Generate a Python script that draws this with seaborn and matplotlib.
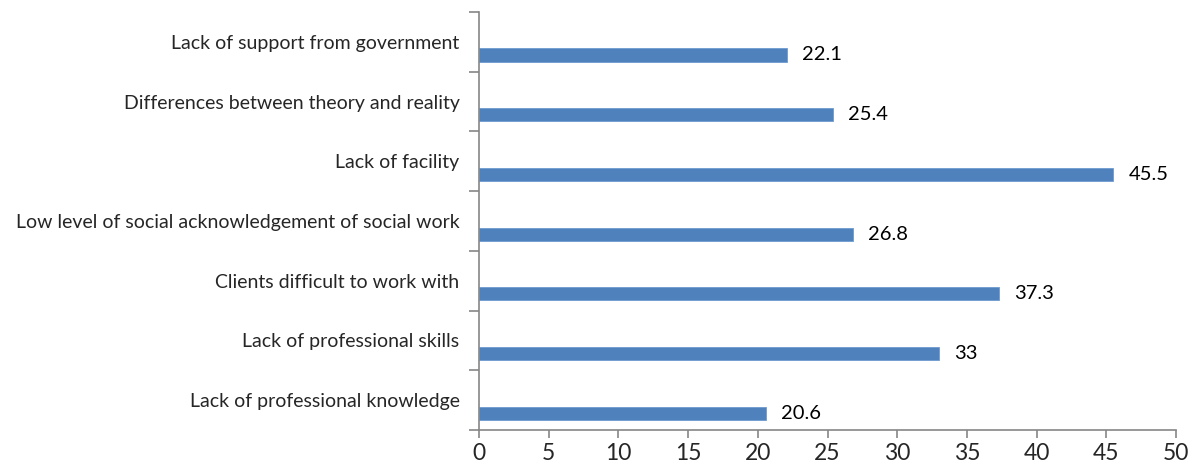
import numpy as np
import pandas as pd
import matplotlib
matplotlib.use("Agg")
import matplotlib.pyplot as plt
import seaborn as sns

# survey data: top to bottom as in the chart
problems = ['Lack of support from government',
            'Differences between theory and reality',
            'Lack of facility',
            'Low level of social acknowledgement of social work',
            'Clients difficult to work with',
            'Lack of professional skills',
            'Lack of professional knowledge']
percent = [22.1, 25.4, 45.5, 26.8, 37.3, 33, 20.6]
value_labels = ['22.1', '25.4', '45.5', '26.8', '37.3', '33', '20.6']
x_ticks = [0, 5, 10, 15, 20, 25, 30, 35, 40, 45, 50]

df = pd.DataFrame({'problem': problems, 'percent': percent})

sns.set_theme(style="white")
plt.rcParams['font.family'] = ['Lato', 'DejaVu Sans']

axis_grey = '#868686'
fig = plt.figure(figsize=(11.94, 4.72), dpi=100)
ax = fig.add_axes([479 / 1194, 1 - 430 / 472, 697 / 1194, 418 / 472])

sns.barplot(data=df, x='percent', y='problem', orient='h', color='#4F81BD',
            saturation=1, width=0.22, edgecolor='#6F9AD0', linewidth=0.6, ax=ax)

# Excel puts the bar in the lower part of each category band
for p in ax.patches:
    p.set_y(p.get_y() + 0.22)

ax.bar_label(ax.containers[0], labels=value_labels, padding=11, fontsize=14.5,
             color='black')

ax.set_xlim(0, 50)
ax.set_ylim(len(problems) - 0.5, -0.5)
ax.set_xticks(x_ticks)
ax.set_xticklabels([str(t) for t in x_ticks], fontsize=16.5)
ax.set_yticks(range(len(problems)))
ax.set_yticklabels(problems, fontsize=14)
ax.set_yticks(np.arange(-0.5, len(problems)), minor=True)
ax.tick_params(axis='y', which='major', length=0, pad=14)
ax.tick_params(axis='y', which='minor', length=7, width=1.2, color=axis_grey, left=True)
ax.tick_params(axis='x', which='major', length=6, width=1.2, color=axis_grey, bottom=True, pad=3)
ax.set_xlabel('')
ax.set_ylabel('')

for side in ['top', 'right']:
    ax.spines[side].set_visible(False)
for side in ['left', 'bottom']:
    ax.spines[side].set_color(axis_grey)
    ax.spines[side].set_linewidth(1.2)

fig.savefig('out.png', dpi=100)
